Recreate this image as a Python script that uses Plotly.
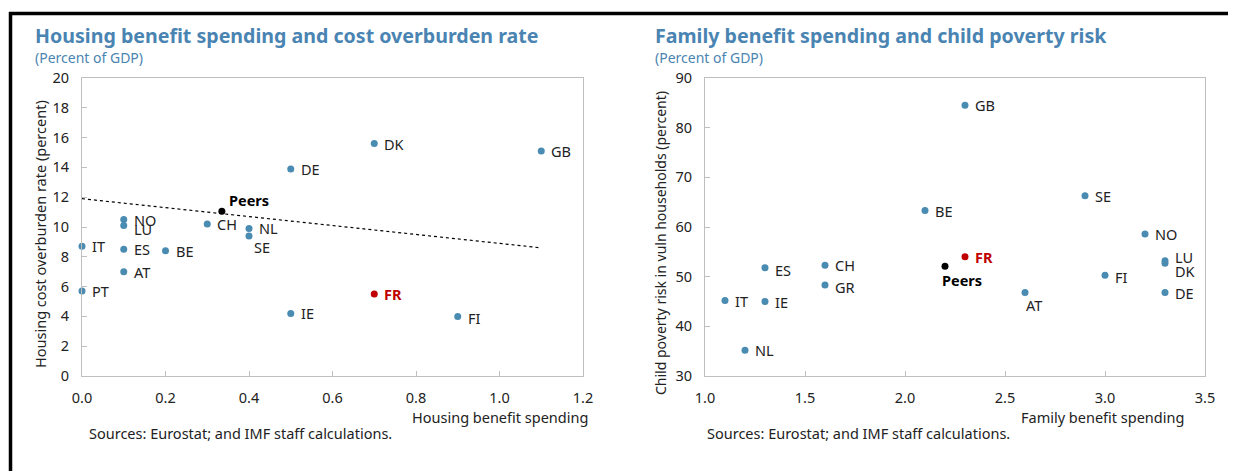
import plotly.graph_objects as go

# ---------------- data ----------------
# Left panel: housing benefit spending (% GDP) vs housing cost overburden rate (%)
h_countries = ["IT", "PT", "NO", "LU", "ES", "AT", "BE", "CH", "NL", "SE",
               "DE", "IE", "DK", "FI", "GB"]
h_spend = [0.0, 0.0, 0.1, 0.1, 0.1, 0.1, 0.2, 0.3, 0.4, 0.4,
           0.5, 0.5, 0.7, 0.9, 1.1]
h_overburden = [8.7, 5.7, 10.5, 10.1, 8.5, 7.0, 8.4, 10.2, 9.9, 9.4,
                13.9, 4.2, 15.6, 4.0, 15.1]
h_fr = (0.7, 5.5)
h_peers = (0.335, 11.05)
h_trend_x = [0.0, 1.1]
h_trend_y = [11.9, 8.6]

# Right panel: family benefit spending (% GDP) vs child poverty risk (%)
f_countries = ["IT", "IE", "ES", "NL", "CH", "GR", "BE", "GB", "AT",
               "SE", "FI", "NO", "LU", "DK", "DE"]
f_spend = [1.1, 1.3, 1.3, 1.2, 1.6, 1.6, 2.1, 2.3, 2.6,
           2.9, 3.0, 3.2, 3.3, 3.3, 3.3]
f_poverty = [45.2, 45.0, 51.8, 35.2, 52.3, 48.3, 63.3, 84.5, 46.8,
             66.3, 50.3, 58.6, 53.2, 52.7, 46.8]
f_fr = (2.3, 54.0)
f_peers = (2.2, 52.1)

# ---------------- styles ----------------
PAGE_OFF = 8              # default page margin of the html body
W, H = 1236 - PAGE_OFF, 471 - PAGE_OFF
BLUE = "#4a8bb2"
RED = "#c00000"
TITLE_BLUE = "#4a84b2"
GRID = "#bfbfbf"
FONT = "Noto Sans"
TXT = "#222222"
FS = 14.5

# label offsets in pixels (xshift, yshift), default (8, 0)
h_off = {"LU": (8, -3), "SE": (3, -11), "FI": (8, -2)}
f_off = {"AT": (-1, -12), "LU": (8, 4), "DK": (8, -8), "FI": (8, -2), "ES": (8, -2), "GR": (8, -2)}


def px_x(p):
    return (p - PAGE_OFF) / W


def px_y(p):
    return 1 - (p - PAGE_OFF) / H


fig = go.Figure()

# left panel
fig.add_trace(go.Scatter(x=h_trend_x, y=h_trend_y, mode="lines",
                         line=dict(color="#000000", width=1.2, dash="dot"),
                         xaxis="x", yaxis="y", hoverinfo="skip"))
fig.add_trace(go.Scatter(x=h_spend, y=h_overburden, mode="markers",
                         marker=dict(color=BLUE, size=7), cliponaxis=False,
                         xaxis="x", yaxis="y"))
fig.add_trace(go.Scatter(x=[h_fr[0]], y=[h_fr[1]], mode="markers",
                         marker=dict(color=RED, size=7), cliponaxis=False,
                         xaxis="x", yaxis="y"))
fig.add_trace(go.Scatter(x=[h_peers[0]], y=[h_peers[1]], mode="markers",
                         marker=dict(color="#000000", size=7), cliponaxis=False,
                         xaxis="x", yaxis="y"))

# right panel
fig.add_trace(go.Scatter(x=f_spend, y=f_poverty, mode="markers",
                         marker=dict(color=BLUE, size=7), cliponaxis=False,
                         xaxis="x2", yaxis="y2"))
fig.add_trace(go.Scatter(x=[f_fr[0]], y=[f_fr[1]], mode="markers",
                         marker=dict(color=RED, size=7), cliponaxis=False,
                         xaxis="x2", yaxis="y2"))
fig.add_trace(go.Scatter(x=[f_peers[0]], y=[f_peers[1]], mode="markers",
                         marker=dict(color="#000000", size=7), cliponaxis=False,
                         xaxis="x2", yaxis="y2"))

ann = []
for c, x, y in zip(h_countries, h_spend, h_overburden):
    dx, dy = h_off.get(c, (8, 0))
    ann.append(dict(x=x, y=y, xref="x", yref="y", text=c, showarrow=False,
                    xanchor="left", yanchor="middle", xshift=dx, yshift=dy,
                    font=dict(size=FS, color=TXT, family=FONT)))
ann.append(dict(x=h_fr[0], y=h_fr[1], xref="x", yref="y", text="<b>FR</b>",
                showarrow=False, xanchor="left", yanchor="middle", xshift=8,
                font=dict(size=FS, color=RED, family=FONT)))
ann.append(dict(x=h_peers[0], y=h_peers[1], xref="x", yref="y", text="<b>Peers</b>",
                showarrow=False, xanchor="left", yanchor="middle", xshift=5, yshift=11,
                font=dict(size=FS, color="#000000", family=FONT)))

for c, x, y in zip(f_countries, f_spend, f_poverty):
    dx, dy = f_off.get(c, (8, 0))
    ann.append(dict(x=x, y=y, xref="x2", yref="y2", text=c, showarrow=False,
                    xanchor="left", yanchor="middle", xshift=dx, yshift=dy,
                    font=dict(size=FS, color=TXT, family=FONT)))
ann.append(dict(x=f_fr[0], y=f_fr[1], xref="x2", yref="y2", text="<b>FR</b>",
                showarrow=False, xanchor="left", yanchor="middle", xshift=8,
                font=dict(size=FS, color=RED, family=FONT)))
ann.append(dict(x=f_peers[0], y=f_peers[1], xref="x2", yref="y2", text="<b>Peers</b>",
                showarrow=False, xanchor="left", yanchor="middle", xshift=-5, yshift=-14,
                font=dict(size=FS, color="#000000", family=FONT)))

# titles, subtitles, axis titles, sources
for x0, title in [(33, "Housing benefit spending and cost overburden rate"),
                  (653, "Family benefit spending and child poverty risk")]:
    ann.append(dict(x=px_x(x0), y=px_y(35), xref="paper", yref="paper", text=f"<b>{title}</b>",
                    showarrow=False, xanchor="left", yanchor="middle",
                    font=dict(size=19.6, color=TITLE_BLUE, family=FONT)))
    ann.append(dict(x=px_x(x0), y=px_y(58), xref="paper", yref="paper", text="(Percent of GDP)",
                    showarrow=False, xanchor="left", yanchor="middle",
                    font=dict(size=14, color=TITLE_BLUE, family=FONT)))

ann.append(dict(x=px_x(40), y=px_y(234), xref="paper", yref="paper",
                text="Housing cost overburden rate (percent)", textangle=-90,
                showarrow=False, xanchor="center", yanchor="middle",
                font=dict(size=FS, color=TXT, family=FONT)))
ann.append(dict(x=px_x(660), y=px_y(243), xref="paper", yref="paper",
                text="Child poverty risk in vuln households (percent)", textangle=-90,
                showarrow=False, xanchor="center", yanchor="middle",
                font=dict(size=14, color=TXT, family=FONT)))
ann.append(dict(x=px_x(590), y=px_y(417), xref="paper", yref="paper",
                text="Housing benefit spending", showarrow=False,
                xanchor="right", yanchor="middle", font=dict(size=FS, color=TXT, family=FONT)))
ann.append(dict(x=px_x(1186), y=px_y(417), xref="paper", yref="paper",
                text="Family benefit spending", showarrow=False,
                xanchor="right", yanchor="middle", font=dict(size=FS, color=TXT, family=FONT)))
for x0 in (87, 705):
    ann.append(dict(x=px_x(x0), y=px_y(433), xref="paper", yref="paper",
                    text="Sources: Eurostat; and IMF staff calculations.", showarrow=False,
                    xanchor="left", yanchor="middle", font=dict(size=FS, color=TXT, family=FONT)))

axis_common = dict(showgrid=False, zeroline=False, showline=True, mirror=True,
                   linecolor=GRID, linewidth=1, ticks="inside", ticklen=5,
                   tickcolor=GRID, tickfont=dict(size=FS, color=TXT, family=FONT),
                   automargin=False)

fig.update_layout(
    width=W, height=H, margin=dict(l=0, r=0, t=0, b=0, pad=0, autoexpand=False),
    paper_bgcolor="white", plot_bgcolor="white", showlegend=False,
    font=dict(family=FONT),
    xaxis=dict(domain=[px_x(82), px_x(583)], range=[0, 1.2], dtick=0.2, tick0=0,
               tickformat=".1f", anchor="y", ticklabelstandoff=9, **axis_common),
    yaxis=dict(domain=[px_y(376), px_y(78)], range=[0, 20], dtick=2, tick0=0,
               anchor="x", ticklabelstandoff=9, **axis_common),
    xaxis2=dict(domain=[px_x(705), px_x(1205)], range=[1.0, 3.5], dtick=0.5, tick0=1.0,
                tickformat=".1f", anchor="y2", ticklabelstandoff=9, **axis_common),
    yaxis2=dict(domain=[px_y(376), px_y(78)], range=[30, 90], dtick=10, tick0=30,
                anchor="x2", ticklabelstandoff=9, **axis_common),
    annotations=ann,
    shapes=[
        dict(type="line", xref="paper", yref="paper", x0=px_x(9), x1=1, y0=px_y(13.5), y1=px_y(13.5),
             line=dict(color="#000000", width=3.5)),
        dict(type="line", xref="paper", yref="paper", x0=px_x(10.5), x1=px_x(10.5), y0=px_y(12), y1=0,
             line=dict(color="#000000", width=3.5)),
    ],
)

fig.write_html("out.html")
